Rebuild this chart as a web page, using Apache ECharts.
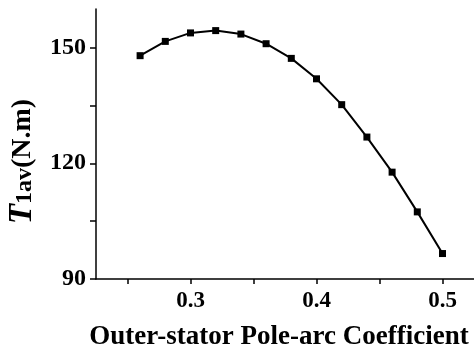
<!DOCTYPE html>
<html>
<head>
<meta charset="utf-8">
<script src="https://cdn.jsdelivr.net/npm/echarts@6/dist/echarts.min.js"></script>
<style>
  html, body { margin: 0; padding: 0; background: #fff; }
  #chart { width: 474px; height: 349px; }
</style>
</head>
<body>
<div id="chart"></div>
<script>
// pole-arc coefficient vs average torque
const coeffs = [0.26, 0.28, 0.30, 0.32, 0.34, 0.36, 0.38, 0.40, 0.42, 0.44, 0.46, 0.48, 0.50]
const torque = [147.9, 151.6, 153.8, 154.4, 153.5, 151.0, 147.2, 141.9, 135.2, 126.8, 117.7, 107.4, 96.6]

const xTicks = [0.25, 0.3, 0.35, 0.4, 0.45, 0.5]
const xLabels = [0.3, 0.4, 0.5]
const yTicks = [90, 105, 120, 135, 150]
const yLabels = [90, 120, 150]

const font = 'Liberation Serif'
const chart = echarts.init(document.getElementById('chart'))

chart.setOption({
  animation: false,
  grid: { left: 96, top: 9, right: 0, bottom: 70, outerBoundsMode: 'none', containLabel: false },
  xAxis: {
    type: 'value',
    min: 0.225,
    max: 0.525,
    name: 'Outer-stator Pole-arc Coefficient',
    nameLocation: 'middle',
    nameGap: 45,
    nameTextStyle: { fontFamily: font, fontWeight: 'bold', fontSize: 27, color: '#000', padding: [0, 12, 0, 0] },
    axisLine: { lineStyle: { color: '#000', width: 1.5 } },
    axisTick: { customValues: xTicks, length: 5, lineStyle: { color: '#000', width: 1.5 } },
    axisLabel: {
      customValues: xLabels,
      formatter: v => v.toFixed(1),
      fontFamily: font, fontWeight: 'bold', fontSize: 23, color: '#000', margin: 11
    },
    splitLine: { show: false }
  },
  yAxis: {
    type: 'value',
    min: 90,
    max: 160,
    name: '{t|T}{s|1av}{n|(N.m)}',
    nameLocation: 'middle',
    nameRotate: 90,
    nameGap: 54,
    nameTextStyle: {
      padding: [0, 35, 0, 0],
      rich: {
        t: { fontFamily: font, fontWeight: 'bold', fontStyle: 'italic', fontSize: 33, color: '#000' },
        s: { fontFamily: font, fontWeight: 'bold', fontSize: 24, color: '#000', padding: [4, 0, 0, 0] },
        n: { fontFamily: font, fontWeight: 'bold', fontSize: 28, color: '#000' }
      }
    },
    axisLine: { show: true, lineStyle: { color: '#000', width: 1.5 } },
    axisTick: { show: true, customValues: yTicks, length: 6, lineStyle: { color: '#000', width: 1.5 } },
    axisLabel: {
      customValues: yLabels,
      fontFamily: font, fontWeight: 'bold', fontSize: 24, color: '#000', margin: 10
    },
    splitLine: { show: false }
  },
  series: [{
    type: 'line',
    data: coeffs.map((c, i) => [c, torque[i]]),
    symbol: 'rect',
    symbolSize: 7,
    lineStyle: { color: '#000', width: 2 },
    itemStyle: { color: '#000' }
  }]
})
</script>
</body>
</html>
